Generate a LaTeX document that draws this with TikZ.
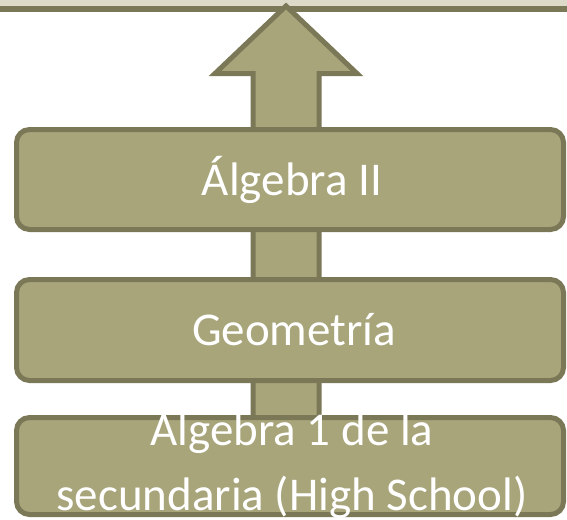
\documentclass[tikz,border=0pt]{standalone}
\usepackage{fontspec}
\setmainfont{Carlito}
\definecolor{boxfill}{RGB}{168,165,123}
\definecolor{boxline}{RGB}{123,120,87}
\definecolor{bandfill}{RGB}{221,218,202}
\begin{document}
\begin{tikzpicture}[x=1pt,y=-1pt,
  stagebox/.style={draw=boxline, fill=boxfill, line width=5pt, rounded corners=13pt,
    minimum width=547pt, inner sep=0pt, outer sep=0pt},
  stagetext/.style={text=white, font=\fontsize{47}{65}\selectfont, inner sep=0pt, align=center},
  bigarrow/.style={draw=boxline, fill=boxfill, line width=5pt, line join=miter}]
\useasboundingbox (0,0) rectangle (567,519);
% top band (cropped box)
\fill[bandfill] (0,-5) rectangle (567,8.8);
\draw[boxline, line width=5.5pt] (0,8.8) -- (567,8.8);
% big upward arrow
\coordinate (tip) at (286,6);
\draw[bigarrow] (253,425) -- (253,73.5) -- (215,73.5) -- (tip) -- (357,73.5) -- (319,73.5) -- (319,425) -- cycle;
% stage boxes
\node[stagebox, minimum height=100pt] (b1) at (290,179.5) {};
\node[stagebox, minimum height=101pt] (b2) at (290,330) {};
\node[stagebox, minimum height=97pt] (b3) at (290,466) {};
% texts
\node[stagetext, anchor=base] (t1) at (292,195) {Álgebra II};
\node[stagetext, anchor=base] (t2) at (294,345) {Geometría};
\node[stagetext, anchor=base] (t3) at (292,510) {Álgebra 1 de la\\secundaria (High School)};
\end{tikzpicture}
\end{document}
